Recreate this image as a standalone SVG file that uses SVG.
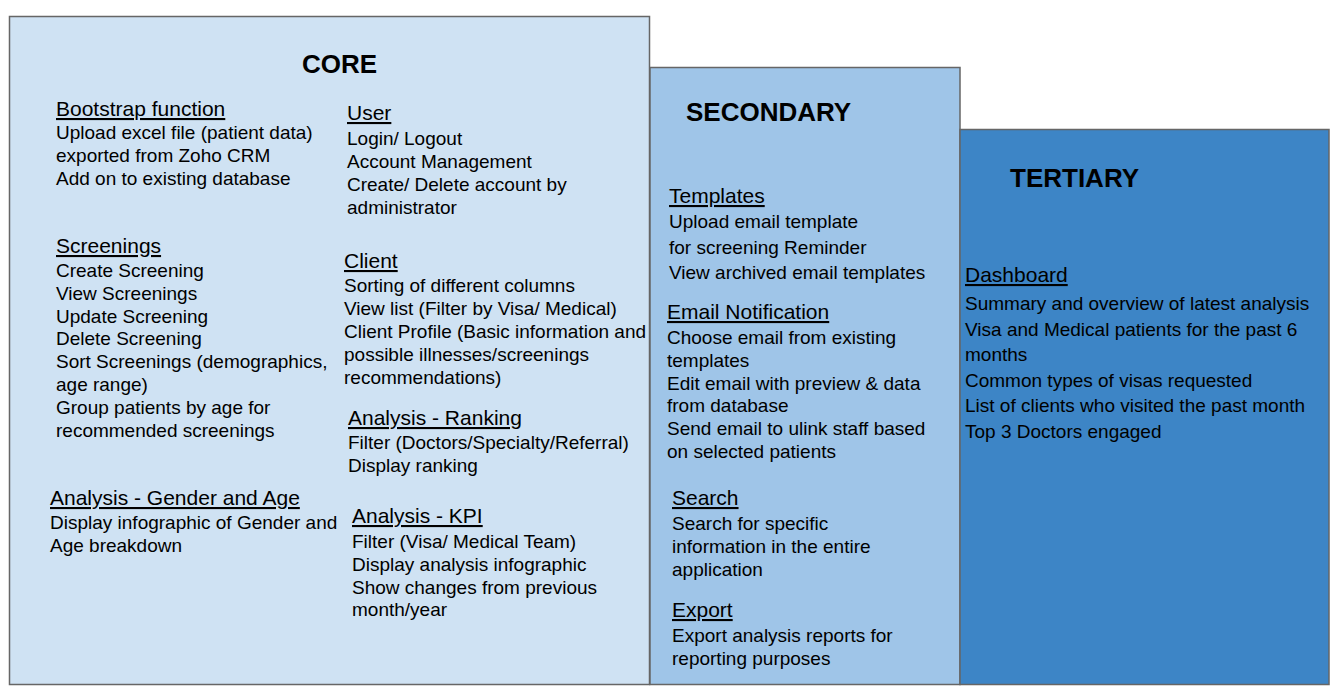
<svg xmlns="http://www.w3.org/2000/svg" width="1335" height="692" viewBox="0 0 1335 692">
<style>
.box{stroke:#666666;stroke-width:1.5}
text{font-family:"Liberation Sans",Arial,sans-serif;fill:#000000}
.title{font-size:26px;font-weight:bold}
.h{font-size:21px;text-decoration:underline}
.b{font-size:19px}
</style>
<rect width="1335" height="692" fill="#ffffff"/>
<g id="core">
<rect class="box" x="9.5" y="16.5" width="640" height="668" fill="#cfe2f3"/>
<text class="title" x="302" y="73">CORE</text>
<text class="h" x="56" y="116">Bootstrap function</text>
<text class="b" x="56" y="139">Upload excel file (patient data)</text>
<text class="b" x="56" y="162">exported from Zoho CRM</text>
<text class="b" x="56" y="185">Add on to existing database</text>
<text class="h" x="56" y="253">Screenings</text>
<text class="b" x="56" y="277">Create Screening</text>
<text class="b" x="56" y="300">View Screenings</text>
<text class="b" x="56" y="323">Update Screening</text>
<text class="b" x="56" y="345">Delete Screening</text>
<text class="b" x="56" y="368">Sort Screenings (demographics,</text>
<text class="b" x="56" y="391">age range)</text>
<text class="b" x="56" y="414">Group patients by age for</text>
<text class="b" x="56" y="437">recommended screenings</text>
<text class="h" x="50" y="505">Analysis - Gender and Age</text>
<text class="b" x="50" y="529">Display infographic of Gender and</text>
<text class="b" x="50" y="552">Age breakdown</text>
<text class="h" x="347" y="120">User</text>
<text class="b" x="347" y="145">Login/ Logout</text>
<text class="b" x="347" y="168">Account Management</text>
<text class="b" x="347" y="191">Create/ Delete account by</text>
<text class="b" x="347" y="214">administrator</text>
<text class="h" x="344" y="268">Client</text>
<text class="b" x="344" y="292">Sorting of different columns</text>
<text class="b" x="344" y="315">View list (Filter by Visa/ Medical)</text>
<text class="b" x="344" y="338">Client Profile (Basic information and</text>
<text class="b" x="344" y="361">possible illnesses/screenings</text>
<text class="b" x="344" y="384">recommendations)</text>
<text class="h" x="348" y="425">Analysis - Ranking</text>
<text class="b" x="348" y="449">Filter (Doctors/Specialty/Referral)</text>
<text class="b" x="348" y="472">Display ranking</text>
<text class="h" x="352" y="523">Analysis - KPI</text>
<text class="b" x="352" y="548">Filter (Visa/ Medical Team)</text>
<text class="b" x="352" y="571">Display analysis infographic</text>
<text class="b" x="352" y="594">Show changes from previous</text>
<text class="b" x="352" y="616">month/year</text>
</g>
<g id="secondary">
<rect class="box" x="650" y="67.5" width="310" height="617" fill="#9fc5e8"/>
<text class="title" x="686" y="121">SECONDARY</text>
<text class="h" x="669" y="203">Templates</text>
<text class="b" x="669" y="228">Upload email template</text>
<text class="b" x="669" y="254">for screening Reminder</text>
<text class="b" x="669" y="279">View archived email templates</text>
<text class="h" x="667" y="319">Email Notification</text>
<text class="b" x="667" y="344">Choose email from existing</text>
<text class="b" x="667" y="367">templates</text>
<text class="b" x="667" y="390">Edit email with preview &amp; data</text>
<text class="b" x="667" y="412">from database</text>
<text class="b" x="667" y="435">Send email to ulink staff based</text>
<text class="b" x="667" y="458">on selected patients</text>
<text class="h" x="672" y="505">Search</text>
<text class="b" x="672" y="530">Search for specific</text>
<text class="b" x="672" y="553">information in the entire</text>
<text class="b" x="672" y="576">application</text>
<text class="h" x="672" y="617">Export</text>
<text class="b" x="672" y="642">Export analysis reports for</text>
<text class="b" x="672" y="665">reporting purposes</text>
</g>
<g id="tertiary">
<rect class="box" x="960" y="129.5" width="369" height="555" fill="#3d85c6"/>
<text class="title" x="1010" y="187">TERTIARY</text>
<text class="h" x="965" y="282">Dashboard</text>
<text class="b" x="965" y="310">Summary and overview of latest analysis</text>
<text class="b" x="965" y="336">Visa and Medical patients for the past 6</text>
<text class="b" x="965" y="361">months</text>
<text class="b" x="965" y="387">Common types of visas requested</text>
<text class="b" x="965" y="412">List of clients who visited the past month</text>
<text class="b" x="965" y="438">Top 3 Doctors engaged</text>
</g>
<g id="connectors"/>
</svg>
